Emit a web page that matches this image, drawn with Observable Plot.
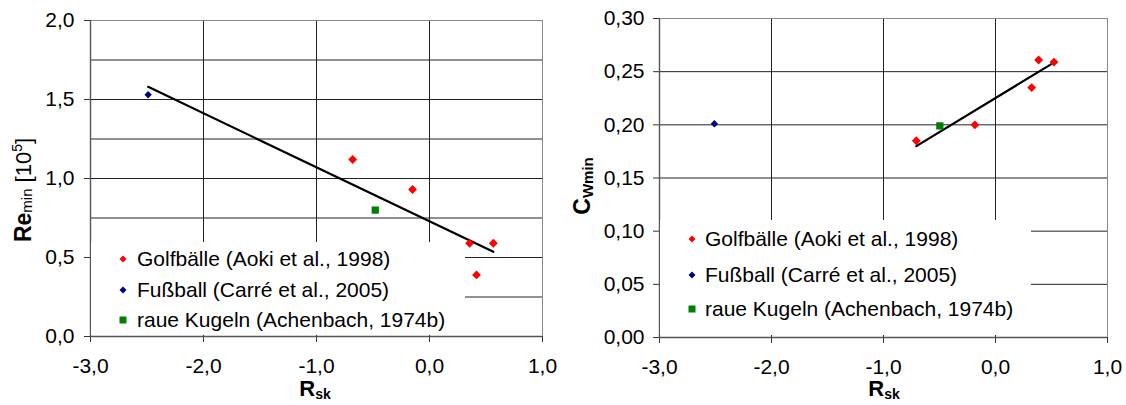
<!DOCTYPE html>
<html><head><meta charset="utf-8">
<script src="https://cdn.jsdelivr.net/npm/d3@7"></script>
<script src="https://cdn.jsdelivr.net/npm/@observablehq/plot@0.6"></script>
<style>
body{margin:0;background:#fff;font-family:"Liberation Sans",Arial,sans-serif;}
#wrap{position:relative;width:1126px;height:405px;overflow:hidden;}
.panel{position:absolute;top:0;}
.legend{position:absolute;background:#fff;}
.item{position:absolute;font-size:21px;line-height:21px;white-space:nowrap;color:#000;}
.mk{position:absolute;}
#titles{position:absolute;left:0;top:0;pointer-events:none;}
</style></head><body><div id="wrap"></div>
<script>
// ---------- shared ----------
const xTicks = [-3, -2, -1, 0, 1];
const xTickLabels = ["-3,0", "-2,0", "-1,0", "0,0", "1,0"];
const seriesNames = ["Golfbälle (Aoki et al., 1998)", "Fußball (Carré et al., 2005)", "raue Kugeln (Achenbach, 1974b)"];
const seriesColors = ["#ff0000", "#000080", "#008000"];

// ---------- left panel: Re_min ----------
const reTicks = [0, 0.5, 1.0, 1.5, 2.0];
const reTickLabels = ["0,0", "0,5", "1,0", "1,5", "2,0"];
const reGrid = [0.25, 0.5, 0.75, 1.0, 1.25, 1.5, 1.75];
const golfRskRe = [-0.68, -0.15, 0.355, 0.565, 0.416];
const golfRe = [1.12, 0.93, 0.59, 0.59, 0.39];
const fussRskRe = [-2.49];
const fussRe = [1.53];
const raueRskRe = [-0.48];
const raueRe = [0.80];
const trendRskRe = [-2.49, 0.565];
const trendRe = [1.58, 0.536];

// ---------- right panel: cw_min ----------
const cwTicks = [0, 0.05, 0.10, 0.15, 0.20, 0.25, 0.30];
const cwTickLabels = ["0,00", "0,05", "0,10", "0,15", "0,20", "0,25", "0,30"];
const cwGrid = [0.05, 0.10, 0.15, 0.20, 0.25];
const golfRskCw = [-0.707, -0.184, 0.323, 0.385, 0.522];
const golfCw = [0.185, 0.200, 0.235, 0.261, 0.259];
const fussRskCw = [-2.51];
const fussCw = [0.201];
const raueRskCw = [-0.497];
const raueCw = [0.199];
const trendRskCw = [-0.707, 0.528];
const trendCw = [0.180, 0.259];

const zip = (xs, ys) => xs.map((x, i) => ({x, y: ys[i]}));
const fmt = (ticks, labels) => d => labels[ticks.findIndex(t => Math.abs(t - d) < 1e-9)];

function makePanel(o) {
  return Plot.plot({
    width: o.width, height: 405,
    marginLeft: o.ml, marginRight: o.mr, marginTop: o.mt, marginBottom: o.mb,
    x: {domain: [-3, 1]},
    y: {domain: o.yDomain},
    style: {fontFamily: '"Liberation Sans", Arial, sans-serif', fontSize: "21px", color: "#000", background: "#fff", overflow: "visible"},
    marks: [
      Plot.ruleY(o.gridY, {stroke: "#222", strokeWidth: 1}),
      Plot.ruleX([-2, -1, 0], {stroke: "#222", strokeWidth: 1}),
      Plot.ruleX([1], {stroke: "#888", strokeWidth: 1}),
      Plot.ruleY([o.yDomain[1]], {stroke: "#888", strokeWidth: 1}),
      Plot.axisX({ticks: xTicks, tickFormat: fmt(xTicks, xTickLabels), tickSize: 6, tickPadding: 16, label: null, fontSize: 21, stroke: "#333"}),
      Plot.axisY({ticks: o.yTicks, tickFormat: fmt(o.yTicks, o.yLabels), tickSize: 6, tickPadding: o.tp, label: null, fontSize: 21, stroke: "#333"}),
      Plot.ruleY([0], {stroke: "#555", strokeWidth: 1.4}),
      Plot.ruleX([-3], {stroke: "#555", strokeWidth: 1.4}),
      Plot.line(zip(o.trendX, o.trendY), {x: "x", y: "y", stroke: "#000", strokeWidth: 2.2}),
      Plot.dot(zip(o.golfX, o.golfY), {x: "x", y: "y", symbol: "diamond2", r: 4, fill: seriesColors[0], stroke: "none"}),
      Plot.dot(zip(o.fussX, o.fussY), {x: "x", y: "y", symbol: "diamond2", r: 3.3, fill: seriesColors[1], stroke: "none"}),
      Plot.dot(zip(o.raueX, o.raueY), {x: "x", y: "y", symbol: "square", r: 4.1, fill: seriesColors[2], stroke: "none"})
    ]
  });
}

const wrap = document.getElementById("wrap");
function place(node, left) {
  const d = document.createElement("div");
  d.className = "panel"; d.style.left = left + "px";
  d.appendChild(node); wrap.appendChild(d);
}

place(makePanel({width: 563, ml: 90, mr: 21, mt: 20, mb: 69, tp: 10, yDomain: [0, 2], yTicks: reTicks, yLabels: reTickLabels, gridY: reGrid,
  golfX: golfRskRe, golfY: golfRe, fussX: fussRskRe, fussY: fussRe, raueX: raueRskRe, raueY: raueRe, trendX: trendRskRe, trendY: trendRe}), 0);
place(makePanel({width: 563, ml: 96, mr: 19, mt: 18, mb: 68, tp: 9, yDomain: [0, 0.30], yTicks: cwTicks, yLabels: cwTickLabels, gridY: cwGrid,
  golfX: golfRskCw, golfY: golfCw, fussX: fussRskCw, fussY: fussCw, raueX: raueRskCw, raueY: raueCw, trendX: trendRskCw, trendY: trendCw}), 563);

// legends
function legend(box, rows, mx, tx) {
  const lg = document.createElement("div");
  lg.className = "legend";
  Object.assign(lg.style, {left: box[0] + "px", top: box[1] + "px", width: (box[2] - box[0]) + "px", height: (box[3] - box[1]) + "px"});
  wrap.appendChild(lg);
  const shapes = ["diamond", "diamond", "square"];
  seriesNames.forEach((name, i) => {
    const y = rows[i];
    const m = document.createElementNS("http://www.w3.org/2000/svg", "svg");
    m.setAttribute("width", 10); m.setAttribute("height", 10); m.setAttribute("class", "mk");
    m.style.left = (mx - 5) + "px"; m.style.top = (y - 5) + "px"; m.style.position = "absolute";
    const s = shapes[i] === "diamond"
      ? `<polygon points="5,1.5 8.5,5 5,8.5 1.5,5" fill="${seriesColors[i]}"/>`
      : `<rect x="1.5" y="1.5" width="7" height="7" fill="${seriesColors[i]}"/>`;
    m.innerHTML = s;
    wrap.appendChild(m);
    const t = document.createElement("div");
    t.className = "item"; t.textContent = name;
    t.style.left = tx + "px"; t.style.top = (y - 11) + "px";
    wrap.appendChild(t);
  });
}
legend([91, 242, 465, 335], [259, 290, 320], 123, 137);
legend([660, 220, 1031, 335], [239, 275, 309], 692, 705);

// axis titles
const svgNS = "http://www.w3.org/2000/svg";
const ts = document.createElementNS(svgNS, "svg");
ts.setAttribute("id", "titles"); ts.setAttribute("width", 1126); ts.setAttribute("height", 405);
ts.innerHTML = `
<g font-family="Liberation Sans, Arial, sans-serif" fill="#000">
  <text x="315" y="396" text-anchor="middle"><tspan font-size="22" font-weight="bold">R</tspan><tspan font-size="14" font-weight="bold" dy="3">sk</tspan></text>
  <text x="884" y="396" text-anchor="middle"><tspan font-size="22" font-weight="bold">R</tspan><tspan font-size="14" font-weight="bold" dy="3">sk</tspan></text>
  <text transform="translate(31,190) rotate(-90)" text-anchor="middle"><tspan font-size="23" font-weight="bold">Re</tspan><tspan font-size="15" dy="1">min</tspan><tspan font-size="22" dy="-1"> [10</tspan><tspan font-size="14" dy="-9">5</tspan><tspan font-size="22" dy="9">]</tspan></text>
  <text transform="translate(590,186) rotate(-90)" text-anchor="middle"><tspan font-size="23" font-weight="bold">C</tspan><tspan font-size="15" font-weight="bold" dy="3">Wmin</tspan></text>
</g>`;
wrap.appendChild(ts);
</script>
</body></html>
